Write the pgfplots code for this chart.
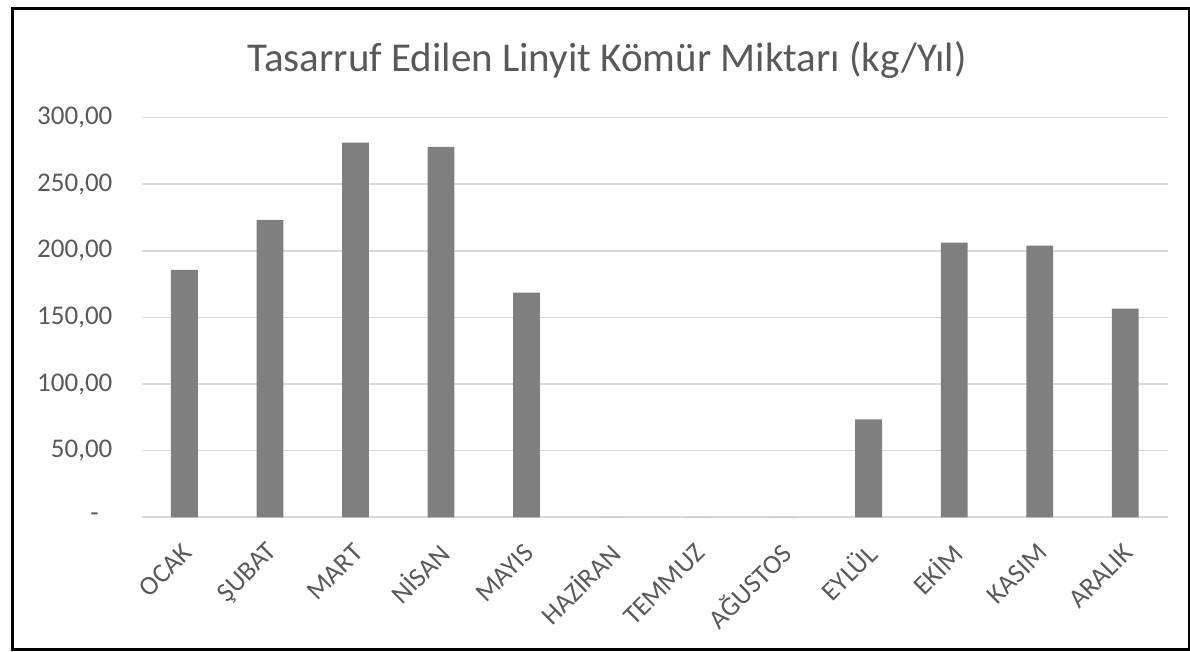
\documentclass[border=0pt]{standalone}
\usepackage{pgfplots}
\pgfplotsset{compat=1.18}
\usepackage{fontspec}
\setmainfont{Carlito}
\definecolor{txt}{HTML}{595959}
\definecolor{gridc}{HTML}{D9D9D9}
\definecolor{barc}{HTML}{7F7F7F}
\begin{document}
\begin{tikzpicture}[x=1pt,y=1pt]
\path[use as bounding box] (0,0) rectangle (1190,652);
\draw[line width=2.5pt] (12.5,2.5) rectangle (1189,643.5);
\node[anchor=base, text=txt, inner sep=0pt, font=\fontsize{41}{49}\selectfont] at (607,580.3) {Tasarruf Edilen Linyit Kömür Miktarı (kg/Yıl)};
\begin{axis}[
  at={(141.6pt,134.7pt)}, anchor=south west,
  scale only axis, width=1026.4pt, height=399.6pt,
  xmin=-0.5, xmax=11.5, ymin=0, ymax=300,
  ytick={0,50,...,300},
  yticklabels={{-\hphantom{0}},{50,00},{100,00},{150,00},{200,00},{250,00},{300,00}},
  xtick={0,...,11},
  xticklabels={OCAK,ŞUBAT,MART,NİSAN,MAYIS,HAZİRAN,TEMMUZ,AĞUSTOS,EYLÜL,EKİM,KASIM,ARALIK},
  ymajorgrids, grid style={draw=gridc, line width=1.6pt},
  major tick length=0pt,
  axis line style={draw=none},
  ticklabel style={font=\fontsize{27}{32}\selectfont, text=txt},
  yticklabel style={inner sep=0pt, anchor=east, xshift=-29pt},
  xticklabel style={inner sep=0pt, xshift=3pt, yshift=-31pt, rotate=45, anchor=east},
]
\addplot[ybar, bar width=26.8pt, fill=barc, draw=none] coordinates {
(0,185.7) (1,223.2) (2,281.2) (3,278.0) (4,168.6) (5,0) (6,0) (7,0) (8,73.6) (9,206.2) (10,204.0) (11,156.6)
};
\end{axis}
\end{tikzpicture}
\end{document}
